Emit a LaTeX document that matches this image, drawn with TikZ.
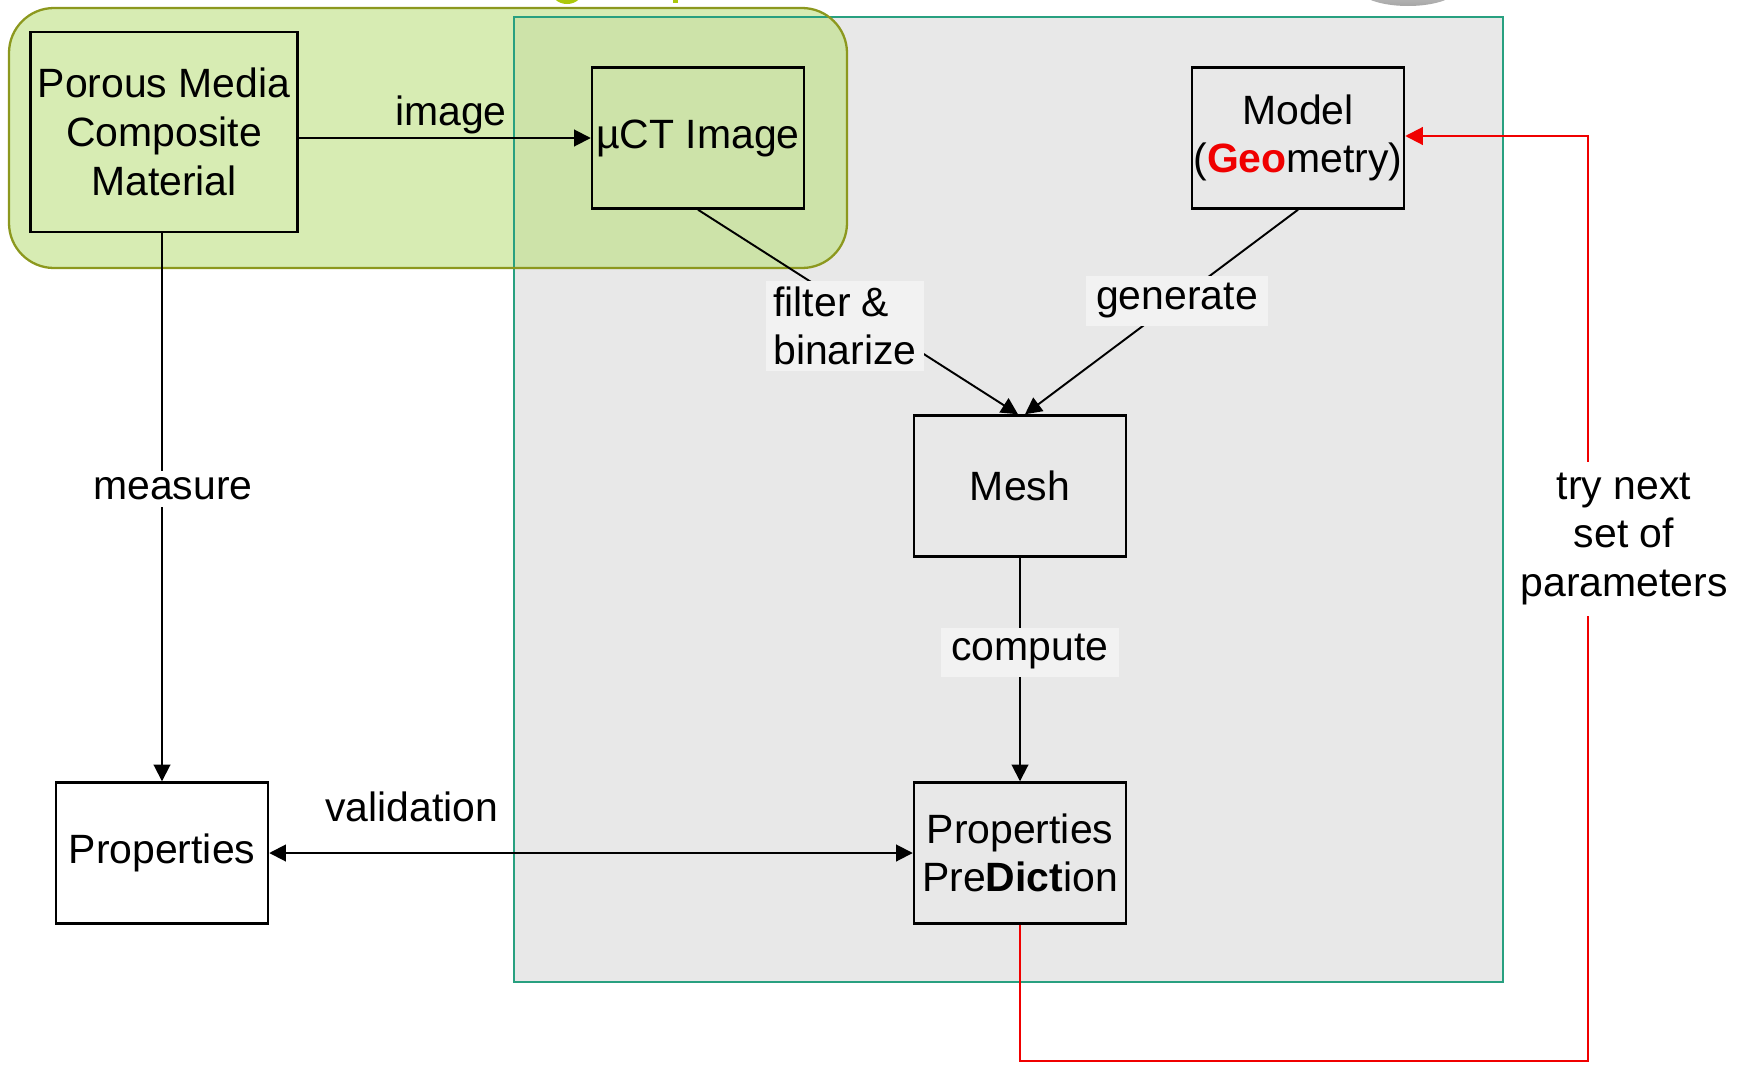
\documentclass[tikz,border=0pt]{standalone}
\usepackage{fontspec}
\setmainfont{Liberation Sans}
\usetikzlibrary{arrows.meta,calc}
\definecolor{panelfill}{RGB}{232,232,232}
\definecolor{panelline}{RGB}{40,160,128}
\definecolor{grfill}{RGB}{188,224,128}
\definecolor{grline}{RGB}{140,152,30}
\definecolor{lblfill}{RGB}{242,242,242}
\definecolor{gtext}{RGB}{172,200,10}
\definecolor{redline}{RGB}{240,0,0}
\tikzset{
  box/.style={draw=black, line width=1.4pt, minimum width=212*0.02cm, minimum height=141*0.02cm, inner sep=0pt, align=center},
  bigbox/.style={box, minimum width=267*0.02cm, minimum height=200*0.02cm},
  arr/.style={line width=1.1pt, -{Triangle[length=9.5pt,width=9.5pt]}},
  darr/.style={line width=1.1pt, {Triangle[length=9.5pt,width=9.5pt]}-{Triangle[length=9.5pt,width=9.5pt]}},
  redarr/.style={draw=redline, line width=1.2pt, -{Triangle[length=10pt,width=10pt]}},
  lbl/.style={fill=lblfill, inner ysep=3pt, inner xsep=4pt},
  txt/.style={inner sep=0pt, align=center},
}
\begin{document}
\begin{tikzpicture}[x=0.02cm, y=-0.02cm, font=\fontsize{23.3}{27.7}\selectfont]
\useasboundingbox (0,0) rectangle (1752,1065);
% clipped fragments at the top edge
\begin{scope}
\clip (0,0) rectangle (1752,1065);
\fill[gtext] (567,-10) ellipse (16 and 14);
\fill[gtext] (673,-10) rectangle (678,3);
\shade[top color=gray!20, bottom color=gray!70] (1408,-12) ellipse (50 and 18);
\end{scope}
% grey panel
\fill[panelfill] (514,17) rectangle (1503,982);
% green group
\fill[grfill, fill opacity=0.6, rounded corners=0.9cm] (9,8) rectangle (847,268);
\draw[panelline, line width=1.2pt] (514,17) rectangle (1503,982);
\draw[grline, line width=1.3pt, rounded corners=0.9cm] (9,8) rectangle (847,268);

% boxes
\node[bigbox] (porous) at (164,132) {Porous Media\\Composite\\Material};
\node[box] (uct) at (698,138) {µCT Image};
\node[box] (model) at (1298,138) {Model\\(\textcolor{redline}{\textbf{Geo}}metry)};
\node[box] (mesh) at (1020,486) {Mesh};
\node[box] (pred) at (1020,853) {Properties\\Pre\textbf{Dict}ion};
\node[box] (props) at (162,853) {Properties};

% connectors
\draw[arr] (porous.east |- uct.west) -- (uct.west);
\draw[arr] (porous.south -| props.north) -- (props.north);
\draw[arr] (uct.south) -- ([xshift=-0.04cm]mesh.north);
\draw[arr] (model.south) -- ([xshift=0.1cm]mesh.north);
\draw[arr] (mesh.south) -- (pred.north);
\draw[darr] (props.east) -- (pred.west);
\coordinate (rb) at (1588,1061);
\coordinate (rt) at (1588,136);
\draw[redarr] (pred.south) -- (pred.south |- rb) -- (rb) -- (rt) -- (rt -| model.east);

% labels
\node[txt] (limage) at (451,115) {image};
\node[txt, fill=white, inner ysep=4pt] (lmeasure) at (173,489) {measure};
\node[lbl, align=left] (lfilter) at (845,326) {filter \&\\binarize};
\node[lbl, inner xsep=6pt, inner ysep=4pt] (lgen) at (1177,301) {generate};
\node[lbl, inner xsep=6pt, inner ysep=4pt] (lcomp) at (1030,652) {compute};
\node[txt] (lvalid) at (412,807) {validation};
\node[txt, fill=white, inner ysep=6pt] (ltry) at (1624,539) {try next\\set of\\parameters};
\end{tikzpicture}
\end{document}
